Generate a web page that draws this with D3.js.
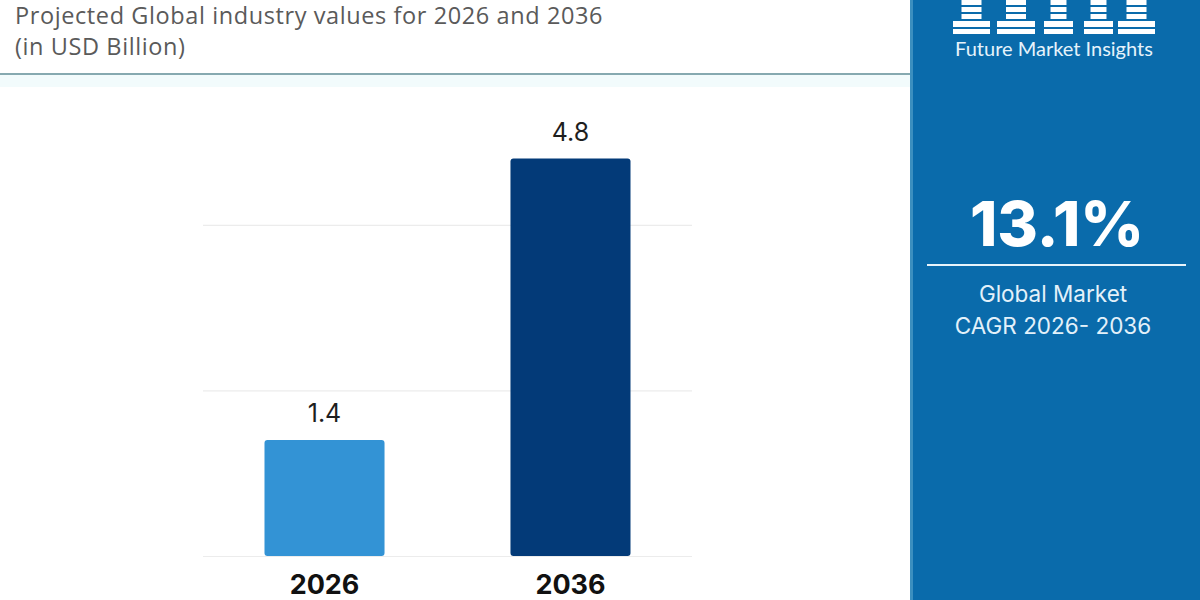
<!DOCTYPE html>
<html>
<head>
<meta charset="utf-8">
<script src="https://cdn.jsdelivr.net/npm/d3@7"></script>
<style>
  body { margin:0; background:#fff; }
  svg { display:block; }
</style>
</head>
<body>
<svg class="chart"></svg>
<script>
var years = ['2026', '2036'];
var values = [1.4, 4.8];
var gridTicks = [0, 2, 4];
var titleLines = ['Projected Global industry values for 2026 and 2036', '(in USD Billion)'];
var cagrValue = '13.1%';
var cagrLines = ['Global Market', 'CAGR 2026- 2036'];
var brand = 'Future Market Insights';

var svgwidth = 1200;
var svgheight = 600;

var svg = d3.select('.chart')
            .attr('width', svgwidth)
            .attr('height', svgheight);

// header
svg.append('rect').attr('x', 0).attr('y', 75).attr('width', 910).attr('height', 12)
   .attr('fill', '#f2fbfc');
svg.append('line').attr('x1', 0).attr('x2', 910).attr('y1', 74).attr('y2', 74)
   .attr('stroke', '#86a9b0').attr('stroke-width', 2);

svg.selectAll('.title').data(titleLines).enter()
   .append('text').classed('title', true)
   .attr('x', 15)
   .attr('y', function(d, i){ return 24 + i * 31; })
   .attr('font-family', '"Open Sans", sans-serif')
   .attr('font-size', 23.5)
   .attr('letter-spacing', 0.6)
   .attr('fill', '#5a5a5a')
   .text(function(d){ return d; });

// chart scales
var xScale = d3.scaleBand()
               .domain(years)
               .range([203, 692])
               .paddingInner(0.512)
               .paddingOuter(0.25);

var yScale = d3.scaleLinear()
               .domain([0, 5])
               .range([556, 142]);

var colors = d3.scaleOrdinal().domain(years).range(['#3393d5', '#033a78']);

var yAxis = d3.axisLeft(yScale).tickValues(gridTicks).tickSize(-(692 - 203)).tickFormat('');
svg.append('g').classed('yAxis', true)
   .attr('transform', 'translate(203,0)')
   .call(yAxis)
   .call(function(g){
     g.select('.domain').remove();
     g.selectAll('line').attr('stroke', '#ececec').attr('stroke-width', 1.2);
   });

svg.selectAll('.bar').data(values).enter()
   .append('rect').classed('bar', true)
   .attr('x', function(d, i){ return xScale(years[i]); })
   .attr('y', function(d){ return yScale(d); })
   .attr('width', xScale.bandwidth())
   .attr('height', function(d){ return yScale(0) - yScale(d); })
   .attr('rx', 3)
   .attr('fill', function(d, i){ return colors(years[i]); });

svg.selectAll('.valueLabel').data(values).enter()
   .append('text').classed('valueLabel', true)
   .attr('x', function(d, i){ return xScale(years[i]) + xScale.bandwidth() / 2; })
   .attr('y', function(d){ return yScale(d) - 18; })
   .attr('text-anchor', 'middle')
   .attr('font-family', 'Inter, sans-serif')
   .attr('font-size', 25)
   .attr('fill', '#1e1e1e')
   .text(function(d){ return d.toFixed(1); });

var xAxis = d3.axisBottom(xScale).tickSize(0).tickPadding(0);
svg.append('g').classed('xAxis', true)
   .attr('transform', 'translate(0,' + 594 + ')')
   .call(xAxis)
   .call(function(g){
     g.select('.domain').remove();
     g.selectAll('text')
      .attr('dy', 0)
      .attr('font-family', 'Inter, sans-serif')
      .attr('font-size', 27)
      .attr('font-weight', 700)
      .attr('fill', '#111');
   });

// right panel
svg.append('rect').attr('x', 910).attr('y', 0).attr('width', 290).attr('height', 600)
   .attr('fill', '#0a6bab');
svg.append('rect').attr('x', 910).attr('y', 0).attr('width', 3).attr('height', 600)
   .attr('fill', '#3b8fbf');

// logo glyphs
var logoX = [953, 997, 1044, 1084, 1118];
var logoW = [37, 38, 29, 29, 37];
var logo = svg.append('g').attr('fill', '#ffffff');
logoX.forEach(function(x, i){
  var w = logoW[i];
  var cw = Math.min(20, w * 0.55);
  var cx = x + (w - cw) / 2;
  [0, 7, 14].forEach(function(y){
    logo.append('rect').attr('x', cx).attr('y', y).attr('width', cw).attr('height', 5);
  });
  logo.append('rect').attr('x', x).attr('y', 21).attr('width', w).attr('height', 6);
  logo.append('rect').attr('x', x).attr('y', 29).attr('width', w).attr('height', 5);
});

svg.append('text')
   .attr('x', 1054).attr('y', 56)
   .attr('text-anchor', 'middle')
   .attr('font-family', 'Lato, sans-serif')
   .attr('font-size', 20)
   .attr('fill', '#e6f3fb')
   .text(brand);

svg.append('text')
   .attr('x', 1057).attr('y', 246)
   .attr('text-anchor', 'middle')
   .attr('font-family', 'Inter, sans-serif')
   .attr('font-size', 62)
   .attr('font-weight', 800)
   .attr('fill', '#ffffff')
   .text(cagrValue);

svg.append('line').attr('x1', 927).attr('x2', 1186).attr('y1', 265).attr('y2', 265)
   .attr('stroke', '#e8f4fb').attr('stroke-width', 2);

svg.selectAll('.cagr').data(cagrLines).enter()
   .append('text').classed('cagr', true)
   .attr('x', 1053)
   .attr('y', function(d, i){ return 302 + i * 32; })
   .attr('text-anchor', 'middle')
   .attr('font-family', 'Inter, sans-serif')
   .attr('font-size', 22.5)
   .attr('fill', '#e3f1fa')
   .text(function(d){ return d; });
</script>
</body>
</html>
